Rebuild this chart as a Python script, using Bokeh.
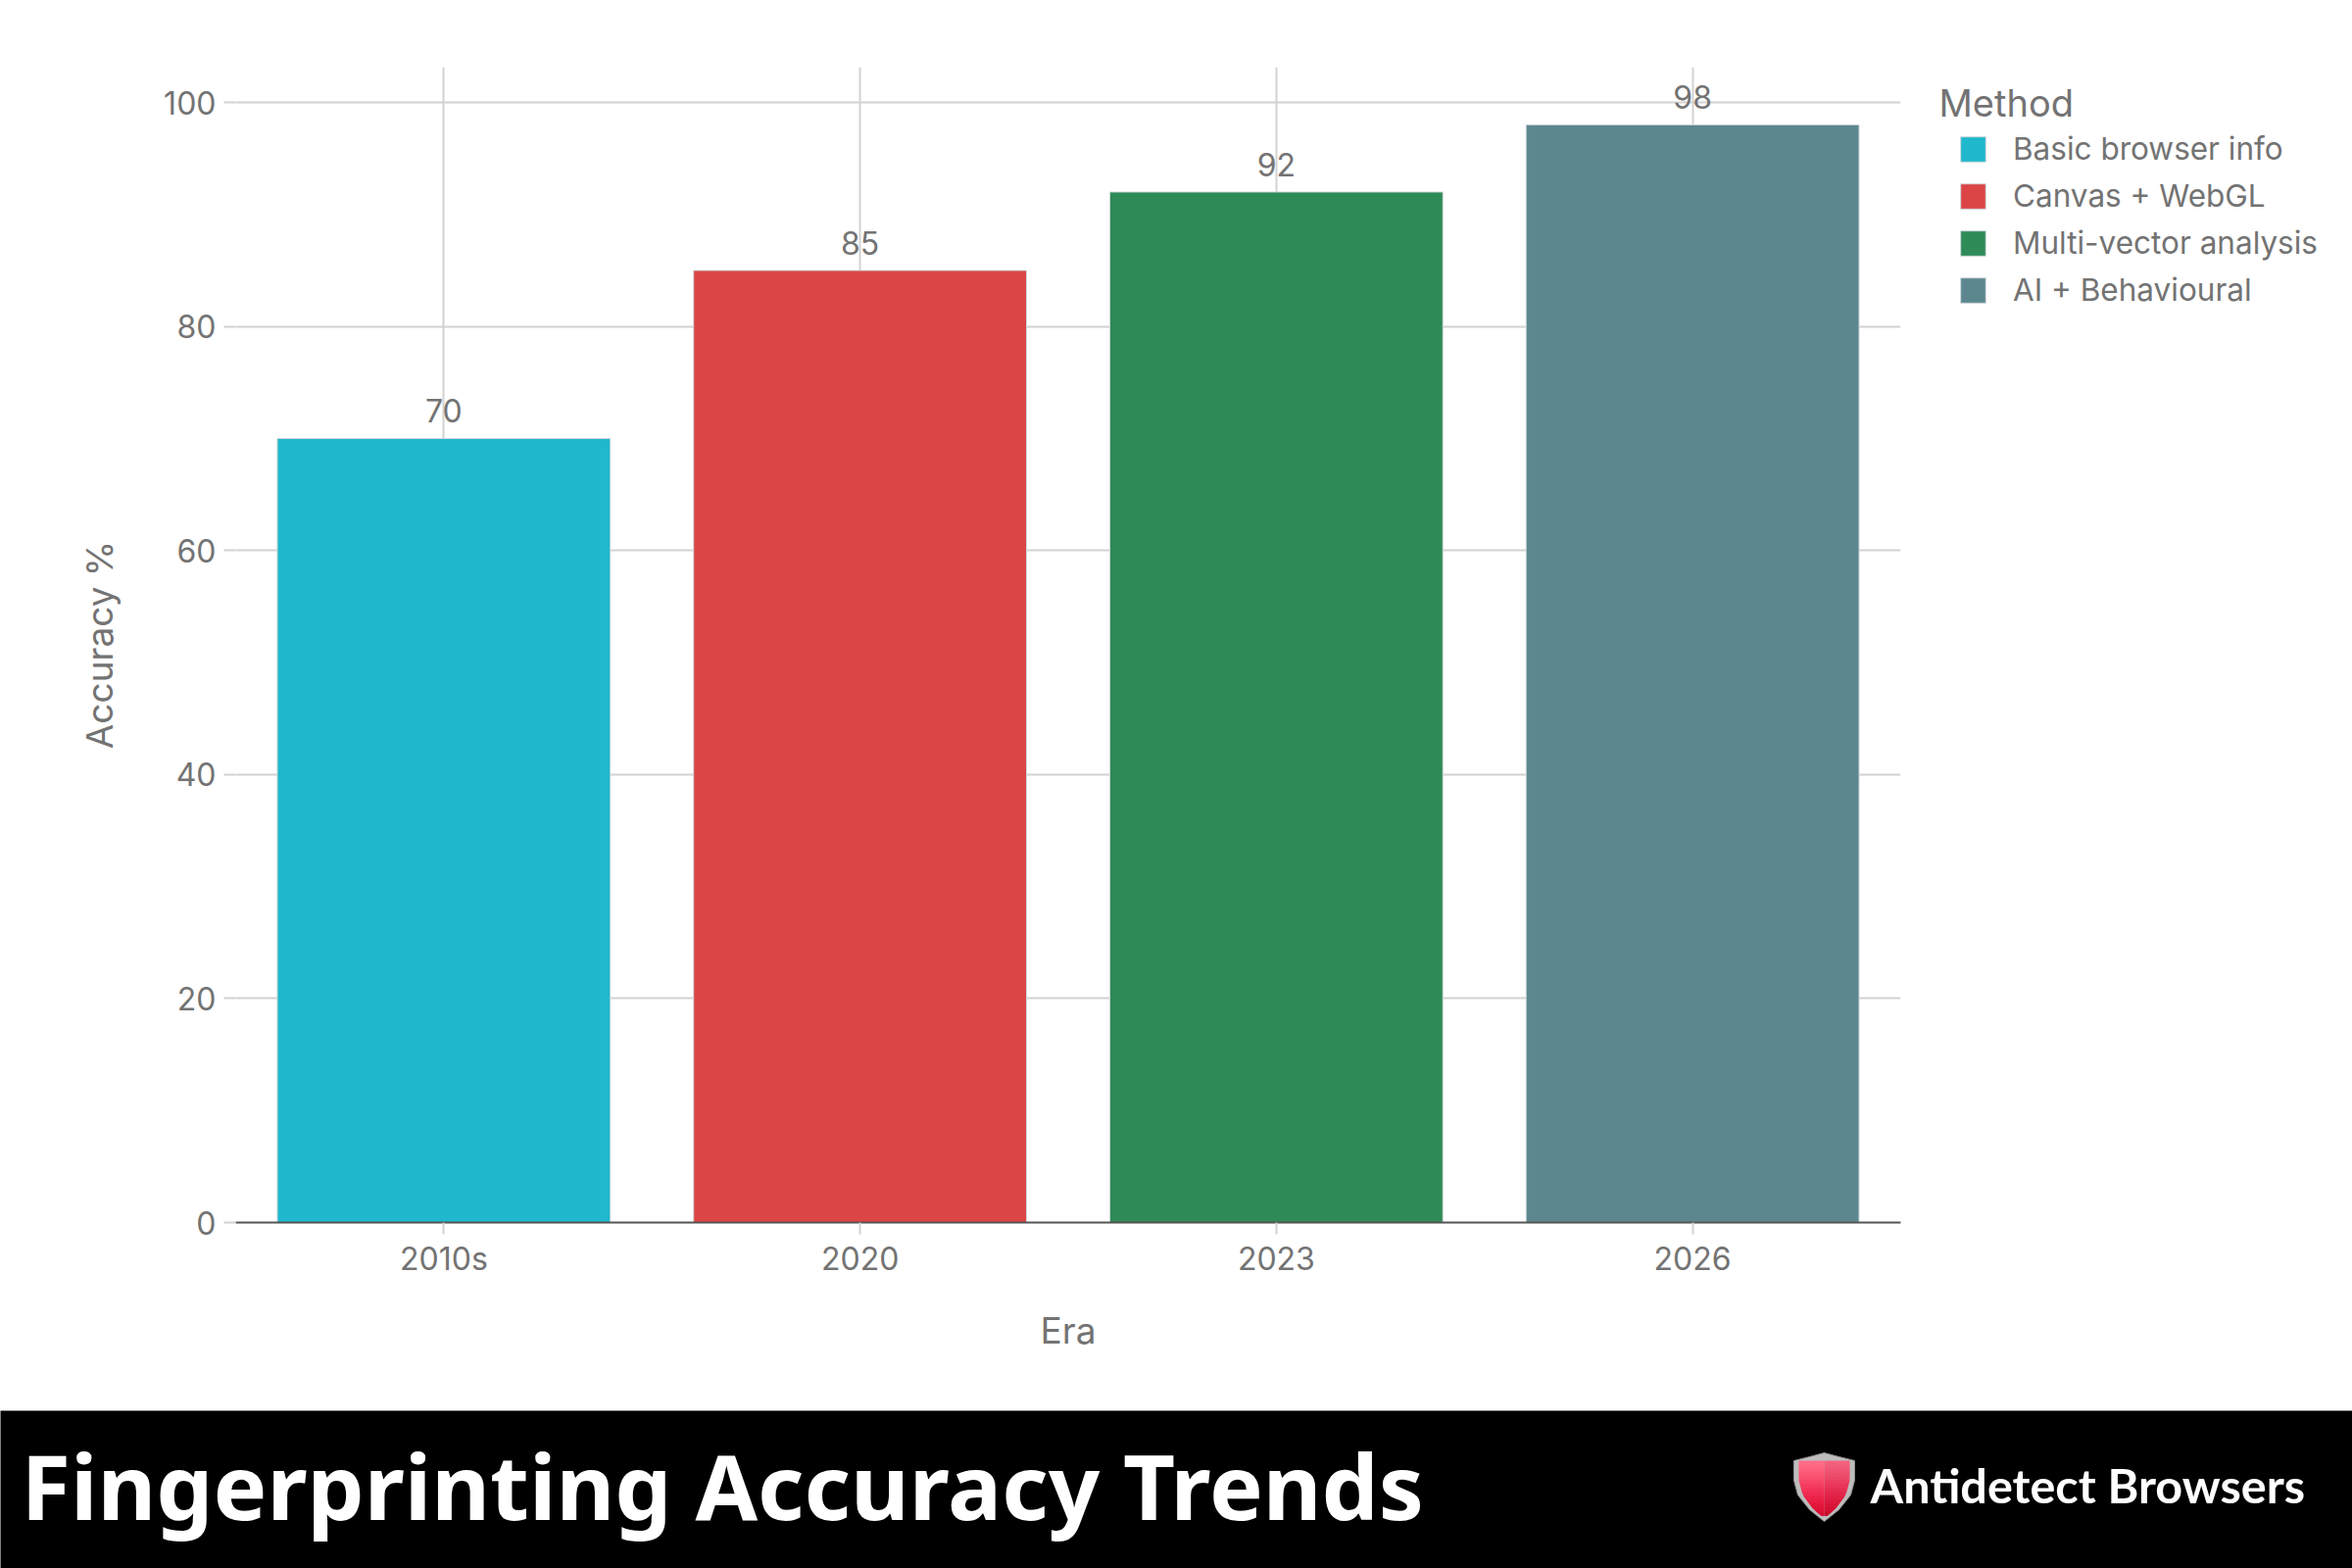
import numpy as np
from bokeh.core.properties import value
from bokeh.embed import file_html
from bokeh.layouts import column, row
from bokeh.models import (ColumnDataSource, FactorRange, FixedTicker, Legend,
                          LegendItem, Range1d)
from bokeh.plotting import figure
from bokeh.resources import INLINE

eras = ["2010s", "2020", "2023", "2026"]
methods = ["Basic browser info", "Canvas + WebGL", "Multi-vector analysis", "AI + Behavioural"]
accuracy = [70, 85, 92, 98]
bar_colors = ["#1FB8CD", "#DB4545", "#2E8B57", "#5D878F"]
y_ticks = [0, 20, 40, 60, 80, 100]
x_title = "Era"
y_title = "Accuracy %"
legend_title = "Method"
banner_title = "Fingerprinting Accuracy Trends"
brand = "Antidetect Browsers"

FONT = "Inter"
GRAY = "#737373"
GRID = "#d2d2d2"

p = figure(
    width=1960, height=1439, x_range=FactorRange(*eras, range_padding=0),
    y_range=Range1d(0, 103.15), output_backend="svg", toolbar_location=None,
    min_border_left=240, min_border_right=21, min_border_top=68, min_border_bottom=192,
    outline_line_color=None, background_fill_color="white", border_fill_color="white",
)
src = ColumnDataSource(dict(era=eras, acc=accuracy, method=methods, color=bar_colors,
                            label=[str(v) for v in accuracy]))
bars = p.vbar(x="era", top="acc", width=0.8, source=src, fill_color="color",
              line_color="#cfd8da", line_width=1)
p.text(x="era", y="acc", text="label", source=src, text_align="center", text_baseline="bottom",
       y_offset=-16, text_color=GRAY, text_font=value(FONT), text_font_size="32px")

p.xgrid.grid_line_color = GRID
p.ygrid.grid_line_color = GRID
p.xgrid.grid_line_width = 2
p.ygrid.grid_line_width = 2
p.ygrid.ticker = FixedTicker(ticks=y_ticks)

p.xaxis.axis_label = x_title
p.yaxis.axis_label = y_title
p.yaxis.ticker = FixedTicker(ticks=y_ticks)
for ax in (p.xaxis[0], p.yaxis[0]):
    ax.axis_label_text_font = FONT
    ax.axis_label_text_font_size = "37px"
    ax.axis_label_text_font_style = "normal"
    ax.axis_label_text_color = GRAY
    ax.major_label_text_font = FONT
    ax.major_label_text_font_size = "32px"
    ax.major_label_text_color = GRAY
    ax.major_tick_line_color = GRID
    ax.major_tick_line_width = 2
    ax.major_tick_in = 0
    ax.major_tick_out = 12
    ax.minor_tick_line_color = None
p.xaxis.axis_line_color = "#555555"
p.xaxis.axis_line_width = 2
p.yaxis.axis_line_color = None
p.xaxis.major_label_standoff = 5
p.yaxis.major_label_standoff = 8
p.xaxis.axis_label_standoff = 28
p.yaxis.axis_label_standoff = 40

# Legend panel to the right of the chart, in page pixel coordinates
l = figure(width=440, height=1439, x_range=Range1d(1960, 2400), y_range=Range1d(1439, 0),
           output_backend="svg", toolbar_location=None, min_border=0,
           outline_line_color=None, background_fill_color="white", border_fill_color="white",
           x_axis_location=None, y_axis_location=None)
l.grid.visible = False
key = l.vbar(x=list(range(len(methods))), top=accuracy, width=0.8, fill_color=bar_colors,
             line_color="#cfd8da", line_width=1, visible=False)
items = [LegendItem(label=methods[i], renderers=[key], index=i) for i in range(len(methods))]
legend = Legend(items=items, location=(37, 1124), orientation="vertical", margin=0, padding=0,
                spacing=9, glyph_width=32, glyph_height=32, label_standoff=25,
                label_text_font=FONT, label_text_font_size="31.5px", label_text_color=GRAY,
                label_height=26, background_fill_alpha=0, border_line_color=None)
l.add_layout(legend, "center")
l.text(x=[1978], y=[104], text=[legend_title], text_color=GRAY, text_font=value(FONT),
       text_font_size="38px", text_baseline="middle", text_align="left")

# Banner with title and logo, in page pixel coordinates
b = figure(width=2400, height=161, x_range=Range1d(0, 2400), y_range=Range1d(1600, 1439),
           output_backend="svg", toolbar_location=None, min_border=0,
           outline_line_color=None, background_fill_color="black", border_fill_color="black",
           x_axis_location=None, y_axis_location=None)
b.grid.visible = False
b.text(x=[21], y=[1515], text=[banner_title], text_color="white", text_font=value("Noto Sans"),
       text_font_style="bold", text_font_size="92px", text_baseline="middle")
b.text(x=[1908], y=[1514], text=[brand], text_color="white", text_font=value("Lato"),
       text_font_style="bold", text_font_size="48.5px", text_baseline="middle")

# Shield logo
cx = 1861.0
b.patch(x=[1830, 1846, 1861, 1876, 1892, 1892, 1888, 1876, 1861, 1846, 1834, 1830],
        y=[1490, 1486, 1482, 1486, 1490, 1510, 1525, 1540, 1552, 1540, 1525, 1510],
        fill_color="#bdbdbd", line_color="#8f8f8f", line_width=1)
edges = np.linspace(1490, 1546, 15)
left_cols = ["#ff6d88", "#ff6683", "#fd5f7c", "#fb5775", "#f94f6e", "#f74567", "#f53c5f",
             "#f23258", "#ef2a50", "#ec2248", "#e81b41", "#e4153b", "#df1036", "#d90c31"]
right_cols = ["#f4627e", "#f25c79", "#f05573", "#ee4e6d", "#ec4667", "#ea3d60", "#e83559",
              "#e52d52", "#e2264b", "#df1f44", "#db193d", "#d71437", "#d21032", "#cc0c2d"]
for i in range(14):
    y0, y1 = edges[i], edges[i + 1] + 0.5
    w0 = np.interp(y0, [1490, 1510, 1525, 1540, 1546], [26, 26, 22, 11, 3])
    w1 = np.interp(y1, [1490, 1510, 1525, 1540, 1546], [26, 26, 22, 11, 3])
    b.patch(x=[cx - w0, cx, cx, cx - w1], y=[y0, y0, y1, y1], fill_color=left_cols[i], line_color=None)
    b.patch(x=[cx, cx + w0, cx + w1, cx], y=[y0, y0, y1, y1], fill_color=right_cols[i], line_color=None)

page = column(row(column(p), column(l), spacing=0), column(b), spacing=0)
open("out.html", "w").write(file_html(page, INLINE))
